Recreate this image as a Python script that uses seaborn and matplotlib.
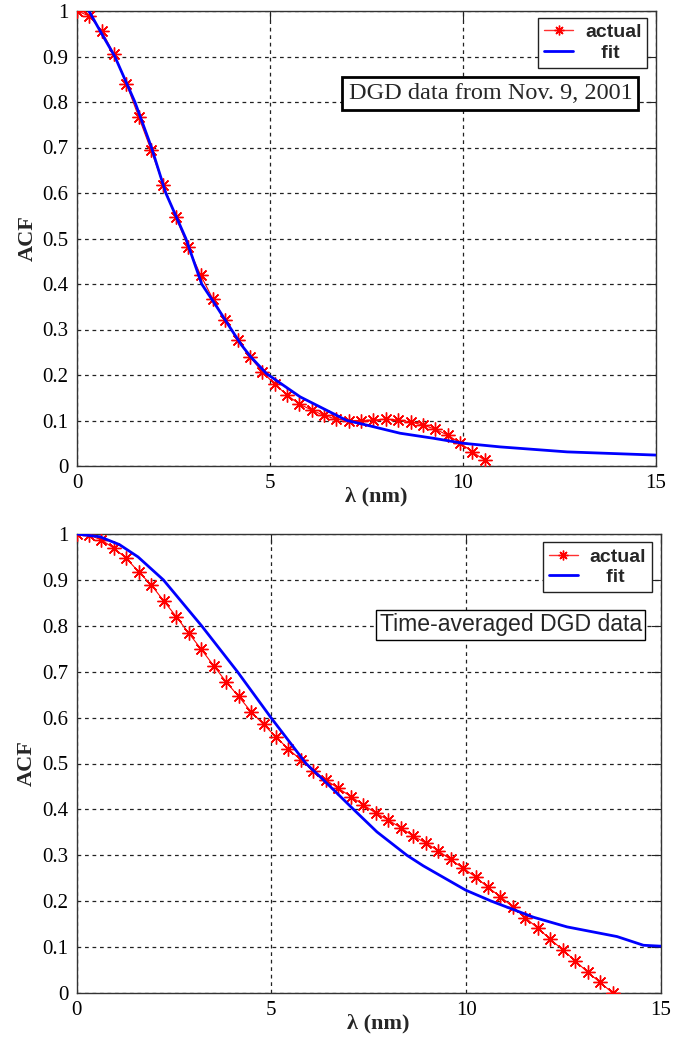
import numpy as np
import pandas as pd
import matplotlib
matplotlib.use("Agg")
import matplotlib.pyplot as plt
from matplotlib.lines import Line2D
import seaborn as sns

sns.set_theme(style="white")
plt.rcParams['font.family'] = ['Liberation Serif', 'DejaVu Serif']

# ---------------- data ----------------
top_actual_x = [0.00, 0.32, 0.64, 0.96, 1.28, 1.60, 1.92, 2.24, 2.56, 2.88, 3.20, 3.52,
                3.84, 4.16, 4.48, 4.80, 5.12, 5.44, 5.76, 6.08, 6.40, 6.72, 7.04, 7.36,
                7.68, 8.00, 8.32, 8.64, 8.96, 9.28, 9.60, 9.92, 10.24, 10.56]
top_actual_y = [1.000, 0.989, 0.956, 0.905, 0.840, 0.767, 0.694, 0.617, 0.547, 0.481, 0.420, 0.367,
                0.321, 0.277, 0.240, 0.207, 0.180, 0.156, 0.136, 0.123, 0.111, 0.103, 0.100, 0.100,
                0.101, 0.103, 0.101, 0.097, 0.090, 0.081, 0.068, 0.051, 0.031, 0.013]
top_fit_x = [0.31, 0.64, 0.98, 1.50, 1.93, 2.30, 2.82, 3.23, 3.62, 3.96, 4.26, 4.50, 4.91,
             5.78, 6.99, 7.50, 8.37, 9.23, 10.00, 10.96, 12.70, 15.00]
top_fit_y = [1.000, 0.950, 0.900, 0.800, 0.700, 0.600, 0.500, 0.400, 0.350, 0.305, 0.266, 0.240, 0.203,
             0.152, 0.100, 0.090, 0.072, 0.061, 0.050, 0.042, 0.031, 0.024]

bot_actual_x = [0.00, 0.32, 0.64, 0.96, 1.28, 1.60, 1.92, 2.24, 2.56, 2.88, 3.20, 3.52,
                3.84, 4.16, 4.48, 4.80, 5.12, 5.44, 5.76, 6.08, 6.40, 6.72, 7.04, 7.36,
                7.68, 8.00, 8.32, 8.64, 8.96, 9.28, 9.60, 9.92, 10.24, 10.56, 10.88, 11.20,
                11.52, 11.84, 12.16, 12.48, 12.80, 13.12, 13.44, 13.76]
bot_actual_y = [1.000, 0.998, 0.987, 0.969, 0.947, 0.917, 0.889, 0.854, 0.820, 0.784, 0.749, 0.713,
                0.678, 0.646, 0.613, 0.585, 0.558, 0.531, 0.508, 0.484, 0.464, 0.446, 0.428, 0.410,
                0.392, 0.377, 0.360, 0.342, 0.327, 0.310, 0.291, 0.272, 0.253, 0.230, 0.210, 0.187,
                0.164, 0.141, 0.117, 0.094, 0.070, 0.045, 0.023, 0.000]
bot_fit_x = [0.00, 0.60, 1.10, 1.58, 2.23, 3.21, 4.13, 4.99, 5.89, 6.34, 7.11, 7.71,
             8.48, 8.90, 9.99, 10.65, 11.73, 12.59, 13.87, 14.55, 15.00]
bot_fit_y = [1.000, 0.994, 0.977, 0.950, 0.900, 0.800, 0.700, 0.600, 0.500, 0.464, 0.400, 0.351,
             0.300, 0.277, 0.224, 0.200, 0.165, 0.144, 0.123, 0.104, 0.102]

x_ticks = [0, 5, 10, 15]
y_ticks = [0, 0.1, 0.2, 0.3, 0.4, 0.5, 0.6, 0.7, 0.8, 0.9, 1]
y_tick_labels = ["0", "0.1", "0.2", "0.3", "0.4", "0.5", "0.6", "0.7", "0.8", "0.9", "1"]
legend_labels = ["actual", "   fit"]
top_note = "DGD data from Nov. 9, 2001"
bot_note = "Time-averaged DGD data"
x_label = "λ (nm)"
y_label = "ACF"

# ---------------- figure ----------------
W, H = 682, 1038
fig = plt.figure(figsize=(W / 100, H / 100), dpi=100)
ax_top = fig.add_axes([77 / W, 1 - 466 / H, 579 / W, 455 / H])
ax_bot = fig.add_axes([76.5 / W, 1 - 993 / H, 584.5 / W, 459 / H])

marker = (8, 2, 0)


def draw(ax, ax_, ay_, fx_, fy_, note, note_xy, note_font, note_lw, note_family,
         note_pad, leg_anchor):
    sns.lineplot(x=ax_, y=ay_, ax=ax, color="#ff0000", linewidth=0.8, marker=marker,
                 markersize=10, markeredgewidth=1.0, markeredgecolor="#ff0000",
                 sort=False, estimator=None, zorder=3)
    sns.lineplot(x=fx_, y=fy_, ax=ax, color="#0000ff", linewidth=2.0,
                 sort=False, estimator=None, zorder=4)
    ax.set_xlim(0, 15)
    ax.set_ylim(0, 1)
    ax.set_xticks(x_ticks)
    ax.set_xticklabels([str(t) for t in x_ticks])
    ax.set_yticks(y_ticks)
    ax.set_yticklabels(y_tick_labels)
    ax.tick_params(axis="both", which="both", direction="in", length=7, width=0.8,
                   top=True, right=True, labelsize=15, colors="#222222", pad=6)
    for lab in ax.get_xticklabels() + ax.get_yticklabels():
        lab.set_color("black")
    ax.grid(True, color="#222222", linestyle=(0, (3, 3)), linewidth=0.9)
    for s in ax.spines.values():
        s.set_color("#333333")
        s.set_linewidth(1.0)
        s.set_visible(True)
    ax.set_xlabel(x_label, fontsize=16, fontweight="bold", labelpad=0)
    ax.set_ylabel(y_label, fontsize=16, fontweight="bold", labelpad=6)
    ax.xaxis.set_label_coords(0.516, -0.045)
    ax.yaxis.set_label_coords(-0.068, 0.5)

    handles = [
        Line2D([], [], color="#ff3030", linewidth=1.0, marker=marker, markersize=7,
               markeredgewidth=1.0, markeredgecolor="#ff0000"),
        Line2D([], [], color="#0000ff", linewidth=2.0),
    ]
    leg = ax.legend(handles, legend_labels, loc="upper right",
                    bbox_to_anchor=leg_anchor, borderaxespad=0,
                    fancybox=False, framealpha=1, edgecolor="#222222",
                    prop={"family": "Liberation Sans", "weight": "bold", "size": 14},
                    handlelength=1.5, handletextpad=0.6, borderpad=0.3,
                    labelspacing=0.15)
    leg.get_frame().set_linewidth(1.0)

    ax.text(note_xy[0], note_xy[1], note, ha="center", va="center",
            fontsize=note_font, family=note_family,
            bbox=dict(boxstyle="square,pad=%g" % note_pad, facecolor="white",
                      edgecolor="black", linewidth=note_lw), zorder=6)


draw(ax_top, top_actual_x, top_actual_y, top_fit_x, top_fit_y,
     top_note, (10.71, 0.818), 17.5, 2.0, ["Liberation Serif"], 0.25, (0.985, 0.985))
draw(ax_bot, bot_actual_x, bot_actual_y, bot_fit_x, bot_fit_y,
     bot_note, (11.15, 0.802), 16.6, 1.0, ["Liberation Sans"], 0.15, (0.9845, 0.982))

fig.savefig("out.png", dpi=100, facecolor="white")
